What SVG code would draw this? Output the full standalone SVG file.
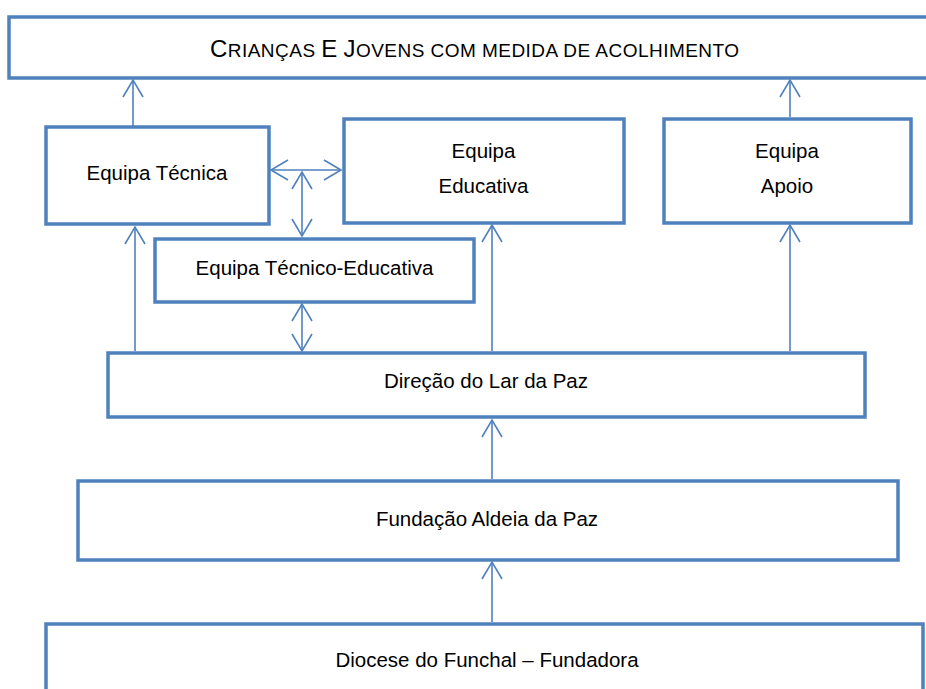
<svg xmlns="http://www.w3.org/2000/svg" width="926" height="689" viewBox="0 0 926 689">
<defs>
<style>
.box{fill:#fff;stroke:#4F81BD;stroke-width:3.5}
.lbl{font-family:"Liberation Sans",Arial,sans-serif;font-size:20.5px;fill:#000;text-anchor:middle}
.ttl{font-family:"Liberation Sans",Arial,sans-serif;fill:#000;text-anchor:middle}
.con{stroke:#4F81BD;stroke-width:1.6;fill:none}
</style>
<marker id="ah" markerUnits="userSpaceOnUse" viewBox="-19 -12 21 24" markerWidth="21" markerHeight="24" refX="0" refY="0" orient="auto-start-reverse">
<path d="M-17,-10 L0,0 L-17,10" fill="none" stroke="#4F81BD" stroke-width="1.6"/>
</marker>
</defs>
<rect width="926" height="689" fill="#fff"/>
<g id="connectors">
<line class="con" x1="133" y1="126" x2="133" y2="80" marker-end="url(#ah)"/>
<line class="con" x1="790" y1="117" x2="790" y2="80" marker-end="url(#ah)"/>
<line class="con" x1="271" y1="170" x2="341" y2="170" marker-start="url(#ah)" marker-end="url(#ah)"/>
<line class="con" x1="302" y1="172" x2="302" y2="236" marker-start="url(#ah)" marker-end="url(#ah)"/>
<line class="con" x1="302" y1="304" x2="302" y2="351" marker-start="url(#ah)" marker-end="url(#ah)"/>
<line class="con" x1="135" y1="351" x2="135" y2="227" marker-end="url(#ah)"/>
<line class="con" x1="492" y1="351" x2="492" y2="225" marker-end="url(#ah)"/>
<line class="con" x1="790" y1="351" x2="790" y2="225" marker-end="url(#ah)"/>
<line class="con" x1="492" y1="479" x2="492" y2="420" marker-end="url(#ah)"/>
<line class="con" x1="492" y1="622" x2="492" y2="562" marker-end="url(#ah)"/>
</g>
<g id="criancas">
<rect class="box" x="9" y="17" width="930" height="61"/>
<text class="ttl" x="474.5" y="57" textLength="529" lengthAdjust="spacing"><tspan font-size="24">C</tspan><tspan font-size="19">RIANÇAS </tspan><tspan font-size="24">E</tspan><tspan font-size="19"> </tspan><tspan font-size="24">J</tspan><tspan font-size="19">OVENS COM MEDIDA DE ACOLHIMENTO</tspan></text>
</g>
<g id="equipa-tecnica">
<rect class="box" x="46" y="127" width="223" height="97"/>
<text class="lbl" x="157" y="180">Equipa Técnica</text>
</g>
<g id="equipa-educativa">
<rect class="box" x="344" y="119" width="280" height="104"/>
<text class="lbl" x="483.5" y="158">Equipa</text>
<text class="lbl" x="483.5" y="193">Educativa</text>
</g>
<g id="equipa-apoio">
<rect class="box" x="664" y="119" width="247" height="104"/>
<text class="lbl" x="787" y="158">Equipa</text>
<text class="lbl" x="787" y="193">Apoio</text>
</g>
<g id="equipa-tecnico-educativa">
<rect class="box" x="155" y="239" width="319" height="63"/>
<text class="lbl" x="314.5" y="275">Equipa Técnico-Educativa</text>
</g>
<g id="direcao">
<rect class="box" x="108" y="353" width="757" height="64"/>
<text class="lbl" x="486" y="388">Direção do Lar da Paz</text>
</g>
<g id="fundacao">
<rect class="box" x="78" y="481" width="820" height="79"/>
<text class="lbl" x="487" y="526">Fundação Aldeia da Paz</text>
</g>
<g id="diocese">
<rect class="box" x="46" y="624" width="877" height="80"/>
<text class="lbl" x="487" y="667">Diocese do Funchal – Fundadora</text>
</g>
</svg>
